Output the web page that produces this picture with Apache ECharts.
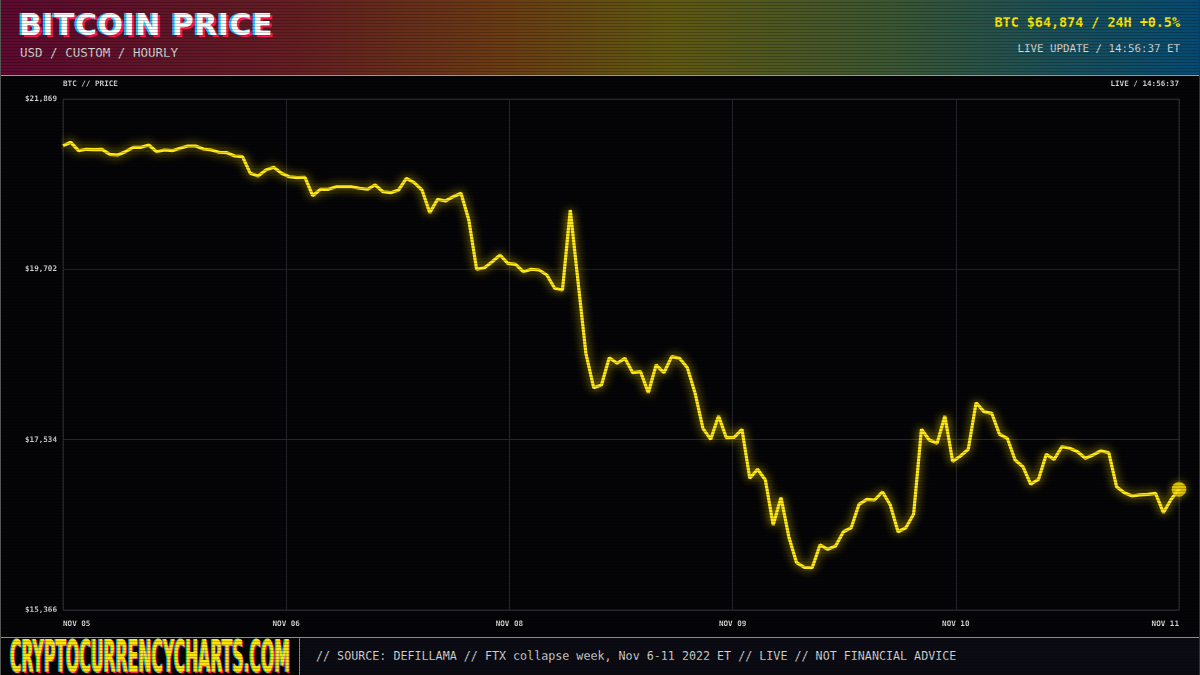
<!DOCTYPE html>
<html>
<head>
<meta charset="utf-8">
<script src="https://cdn.jsdelivr.net/npm/echarts@6/dist/echarts.min.js"></script>
<style>
  html,body{margin:0;padding:0;width:1200px;height:675px;overflow:hidden;background:#050507;}
  #wrap{position:relative;width:1200px;height:675px;background:#050507;}
  #chart{position:absolute;left:0;top:0;width:1200px;height:675px;}
  #header{position:absolute;left:0;top:0;width:1200px;height:76px;
    background:linear-gradient(90deg,#5c0a2f 0%,#641f22 25%,#6a3c14 42%,#5f5812 56%,#3c5632 74%,#1a4f58 88%,#064a72 100%);
    border-bottom:1px solid #9a9a9a;box-sizing:border-box;}
  #title{position:absolute;left:19px;top:7px;font-family:"DejaVu Sans",sans-serif;font-weight:900;font-size:30px;color:#fff;
    letter-spacing:0.5px;text-shadow:-2px 0 #14c8ff,2px 2px #ff1a5a;white-space:nowrap;}
  #sub{position:absolute;left:20px;top:45px;font-family:"DejaVu Sans Mono",monospace;font-size:12.5px;color:#d0d0d0;white-space:nowrap;}
  #price{position:absolute;right:20px;top:15px;font-family:"DejaVu Sans Mono",monospace;font-weight:bold;font-size:13.4px;color:#ffe600;white-space:nowrap;}
  #upd{position:absolute;right:20px;top:42px;font-family:"DejaVu Sans Mono",monospace;font-size:10.8px;color:#d8d8d8;white-space:nowrap;}
  .small{position:absolute;top:79px;font-family:"DejaVu Sans Mono",monospace;font-size:7.6px;font-weight:bold;color:#cfcfcf;white-space:nowrap;}
  #footer{position:absolute;left:0;top:637px;width:1200px;height:38px;background:#0b0c13;border-top:1px solid #8a8a8a;box-sizing:border-box;}
  #logo{position:absolute;left:0;top:0;width:300px;height:37px;border-right:1px solid #8a8a8a;box-sizing:border-box;background:#050507;overflow:hidden;}
  #logotxt{position:absolute;left:10px;top:0px;font-family:"Liberation Sans Narrow","DejaVu Sans Condensed",sans-serif;font-weight:bold;
    font-size:44px;line-height:37px;color:#ffe600;text-shadow:-2px 0 #14c8ff,2px 1px #ff1a5a;white-space:nowrap;transform-origin:0 50%;display:inline-block;}
  #foot{position:absolute;left:316px;top:11px;font-family:"DejaVu Sans Mono",monospace;font-size:11.7px;color:#d0d0d0;white-space:nowrap;}
  #scan{position:absolute;left:0;top:0;width:1200px;height:675px;pointer-events:none;
    background:repeating-linear-gradient(to bottom,rgba(0,0,0,0) 0px,rgba(0,0,0,0) 2px,rgba(0,0,0,0.22) 2px,rgba(0,0,0,0.22) 3px);}
  #frame{position:absolute;left:0;top:0;width:1200px;height:675px;border-left:1px solid #555;border-right:1px solid #333;box-sizing:border-box;pointer-events:none;}
</style>
</head>
<body>
<div id="wrap">
  <div id="chart"></div>
  <div id="header">
    <div id="title">BITCOIN PRICE</div>
    <div id="sub">USD / CUSTOM / HOURLY</div>
    <div id="price">BTC $64,874 / 24H +0.5%</div>
    <div id="upd">LIVE UPDATE / 14:56:37 ET</div>
  </div>
  <div class="small" style="left:63px;">BTC // PRICE</div>
  <div class="small" style="right:21px;">LIVE / 14:56:37</div>
  <div id="footer">
    <div id="logo"><div id="logotxt">CRYPTOCURRENCYCHARTS.COM</div></div>
    <div id="foot">// SOURCE: DEFILLAMA // FTX collapse week, Nov 6-11 2022 ET // LIVE // NOT FINANCIAL ADVICE</div>
  </div>
  <div id="scan"></div>
  <div id="frame"></div>
</div>
<script>
// ---- data ----
const startTime = '2022-11-05T15:00:00Z';   // first hourly sample
const stepHours = 1;
const prices = [
  21275,21318,21211,21229,21224,21229,21165,21156,21198,21254,
  21254,21284,21198,21220,21211,21242,21271,21271,21233,21220,
  21191,21186,21144,21135,20923,20889,20965,21000,20923,20880,
  20868,20873,20638,20720,20720,20753,20753,20753,20733,20720,
  20775,20689,20677,20711,20860,20804,20711,20422,20593,20571,
  20626,20669,20329,19702,19722,19798,19884,19778,19765,19671,
  19702,19693,19629,19460,19438,20456,19540,18633,18195,18229,
  18577,18506,18569,18386,18399,18131,18484,18386,18590,18569,
  18450,18124,17678,17538,17835,17559,17564,17666,17042,17157,
  17020,16448,16800,16299,15968,15909,15904,16193,16138,16180,
  16362,16413,16711,16775,16766,16871,16702,16362,16413,16588,
  17666,17529,17487,17835,17256,17326,17411,18004,17890,17869,
  17602,17551,17275,17190,16966,17029,17347,17284,17444,17424,
  17381,17297,17339,17393,17368,16935,16859,16817,16830,16838,
  16851,16604,16775,16902
];
const xTickLabels = ['NOV 05','NOV 06','NOV 08','NOV 09','NOV 10','NOV 11'];
const yTickLabels = ['$15,366','$17,534','$19,702','$21,869'];
const yMin = 15366, yMax = 21869;

// ---- fit logo text to its box ----
const lt = document.getElementById('logotxt');
const lw = lt.getBoundingClientRect().width;
lt.style.transform = 'scaleX(' + (280 / lw) + ')';

// ---- build ----
const t0 = Date.parse(startTime);
const times = prices.map((_, i) => t0 + i * stepHours * 3600000);
const seriesData = prices.map((p, i) => [times[i], p]);
const tMin = times[0], tMax = times[times.length - 1];
const last = seriesData[seriesData.length - 1];

const chart = echarts.init(document.getElementById('chart'), null, {renderer:'canvas'});
const mono = '"DejaVu Sans Mono", monospace';
chart.setOption({
  backgroundColor: '#050507',
  animation: false,
  grid: {left: 63, right: 21, top: 99, bottom: 65, show: true, borderColor: '#26262c', borderWidth: 1, backgroundColor: '#050507'},
  xAxis: {
    type: 'value', min: tMin, max: tMax, interval: (tMax - tMin) / (xTickLabels.length - 1),
    axisLine: {show: false}, axisTick: {show: false},
    splitLine: {show: true, lineStyle: {color: '#26262c', width: 1}},
    axisLabel: {
      color: '#d0d0d0', fontFamily: mono, fontSize: 7.6, fontWeight: 'bold', margin: 10,
      showMinLabel: true, showMaxLabel: true, alignMinLabel: 'left', alignMaxLabel: 'right',
      formatter: (v, i) => xTickLabels[i] !== undefined ? xTickLabels[i] : ''
    }
  },
  yAxis: {
    type: 'value', min: yMin, max: yMax, interval: 2167.67,
    axisLine: {show: false}, axisTick: {show: false},
    splitLine: {show: true, lineStyle: {color: '#26262c', width: 1}},
    axisLabel: {
      color: '#d0d0d0', fontFamily: mono, fontSize: 7.6, fontWeight: 'bold', margin: 6,
      showMinLabel: true, showMaxLabel: true,
      formatter: (v, i) => yTickLabels[i] !== undefined ? yTickLabels[i] : ''
    }
  },
  series: [
    {
      type: 'line', data: seriesData, showSymbol: false, symbol: 'none',
      lineStyle: {color: '#ffe81a', width: 3.2, shadowBlur: 10, shadowColor: 'rgba(255,225,0,0.85)'},
      z: 3
    },
    {
      type: 'scatter', data: [last], symbol: 'circle', symbolSize: 14,
      itemStyle: {color: '#ffe000', borderColor: '#d9b800', borderWidth: 1, shadowBlur: 8, shadowColor: 'rgba(255,225,0,0.6)'},
      z: 4
    }
  ]
});
</script>
</body>
</html>
